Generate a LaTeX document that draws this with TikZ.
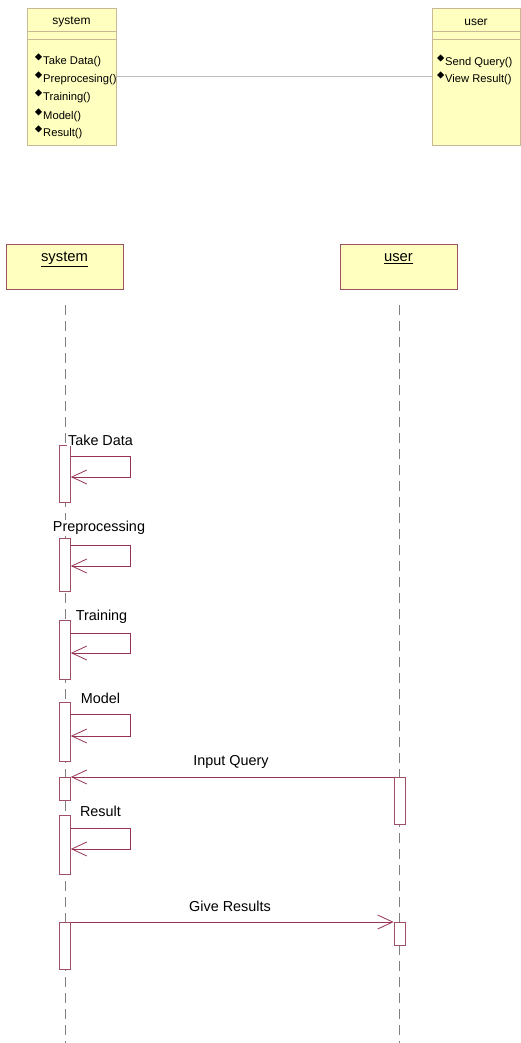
\documentclass[tikz,border=0pt]{standalone}
\usepackage{fontspec}
\setmainfont{Liberation Sans}
\usetikzlibrary{arrows.meta,calc}
\definecolor{boxfill}{RGB}{255,255,192}
\definecolor{classline}{RGB}{200,184,150}
\definecolor{seqline}{RGB}{160,80,100}
\definecolor{msgcol}{RGB}{150,50,85}
\definecolor{lifecol}{RGB}{128,128,128}
\definecolor{assoccol}{RGB}{190,190,190}
\tikzset{
  classbox/.style={draw=classline,fill=boxfill,line width=0.8pt,inner sep=0pt,minimum width=89pt,minimum height=137pt},
  classtitle/.style={inner sep=0pt,font=\fontsize{12}{14}\selectfont},
  method/.style={anchor=west,inner sep=0pt,font=\fontsize{11.2}{13}\selectfont},
  headbox/.style={draw=seqline,fill=boxfill,line width=0.8pt,inner sep=0pt,minimum width=117pt,minimum height=45pt},
  headtext/.style={inner sep=0pt,font=\fontsize{14.8}{17}\selectfont},
  lifeline/.style={draw=lifecol,line width=0.9pt,dash pattern=on 10pt off 6pt},
  act/.style={draw=seqline,fill=white,line width=0.8pt,inner sep=0pt,minimum width=11pt,anchor=north},
  msg/.style={draw=msgcol,line width=0.8pt,-{Straight Barb[length=15pt,width=14pt]}},
  msglabel/.style={inner sep=1pt,fill=white,font=\fontsize{14.4}{17}\selectfont},
}
\begin{document}
\begin{tikzpicture}[x=1pt,y=-1pt]
\useasboundingbox (0,0) rectangle (521,1043);
% ---- class diagram ----
\node[classbox] (sysclass) at (71.5,76.5) {};
\node[classbox,minimum width=88pt] (userclass) at (476,76.5) {};
\draw[classline,line width=0.8pt] ($(sysclass.north west)+(0,24)$) -- ($(sysclass.north east)+(0,24)$);
\draw[classline,line width=0.8pt] ($(sysclass.north west)+(0,32)$) -- ($(sysclass.north east)+(0,32)$);
\draw[classline,line width=0.8pt] ($(userclass.north west)+(0,24)$) -- ($(userclass.north east)+(0,24)$);
\draw[classline,line width=0.8pt] ($(userclass.north west)+(0,32)$) -- ($(userclass.north east)+(0,32)$);
\node[classtitle] (systitle) at (71.5,22) {system};
\node[classtitle] (usertitle) at (476,22) {user};
\node[method] (m1) at (43,62) {Take Data()};
\node[method] (m2) at (43,80) {Preprocesing()};
\node[method] (m3) at (43,98) {Training()};
\node[method] (m4) at (43,117) {Model()};
\node[method] (m5) at (43,134) {Result()};
\node[method] (u1) at (445,63) {Send Query()};
\node[method] (u2) at (445,80) {View Result()};
\foreach \n in {m1,m2,m3,m4,m5,u1,u2}{
  \fill ($(\n.west)+(-8,-5)$) -- ++(3.5,3.5) -- ++(3.5,-3.5) -- ++(-3.5,-3.5) -- cycle;
}
\draw[assoccol,line width=0.9pt] (sysclass.east) -- (userclass.west);
% ---- sequence diagram ----
\node[headbox] (syshead) at (64.5,266.5) {};
\node[headbox] (userhead) at (398.5,266.5) {};
\node[headtext] at (64.5,259) {\underline{system}};
\node[headtext] at (398.5,259) {\underline{user}};
\coordinate (sysTop) at (65,305);
\coordinate (sysBot) at (65,1043);
\coordinate (userTop) at (399.5,305);
\coordinate (userBot) at (399.5,1043);
\draw[lifeline] (sysTop) -- (sysBot);
\draw[lifeline] (userTop) -- (userBot);
% activations
\node[act,minimum height=57pt] (A1) at (65,445) {};
\node[act,minimum height=53pt] (A2) at (65,538) {};
\node[act,minimum height=59pt] (A3) at (65,620) {};
\node[act,minimum height=59pt] (A4) at (65,702) {};
\node[act,minimum height=23pt] (A5) at (65,777) {};
\node[act,minimum height=59pt] (A6) at (65,815) {};
\node[act,minimum height=47pt] (A7) at (65,922) {};
\node[act,minimum height=47pt] (U1) at (399.5,777) {};
\node[act,minimum height=23pt] (U2) at (399.5,922) {};
% self messages
\draw[msg] ($(A1.north east)+(0,11)$) -- ++(59.5,0) -- ++(0,21) -- ++(-59.5,0);
\draw[msg] ($(A2.north east)+(0,7)$) -- ++(59.5,0) -- ++(0,21) -- ++(-59.5,0);
\draw[msg] ($(A3.north east)+(0,13)$) -- ++(59.5,0) -- ++(0,20) -- ++(-59.5,0);
\draw[msg] ($(A4.north east)+(0,12)$) -- ++(59.5,0) -- ++(0,22) -- ++(-59.5,0);
\draw[msg] ($(A6.north east)+(0,13)$) -- ++(59.5,0) -- ++(0,21) -- ++(-59.5,0);
\node[msglabel] (l1) at (100.5,440) {Take Data};
\node[msglabel] (l2) at (99,528) {Preprocessing};
\node[msglabel] (l3) at (101.5,617) {Training};
\node[msglabel] (l4) at (100.5,698) {Model};
\node[msglabel] (l6) at (100.5,811) {Result};
% messages between lifelines
\draw[msg] (U1.north west) -- (A5.north east);
\node[msglabel] (lq) at (231,762) {Input Query};
\draw[msg] (A7.north east) -- (U2.north west);
\node[msglabel] (lr) at (230,906) {Give Results};
\end{tikzpicture}
\end{document}
